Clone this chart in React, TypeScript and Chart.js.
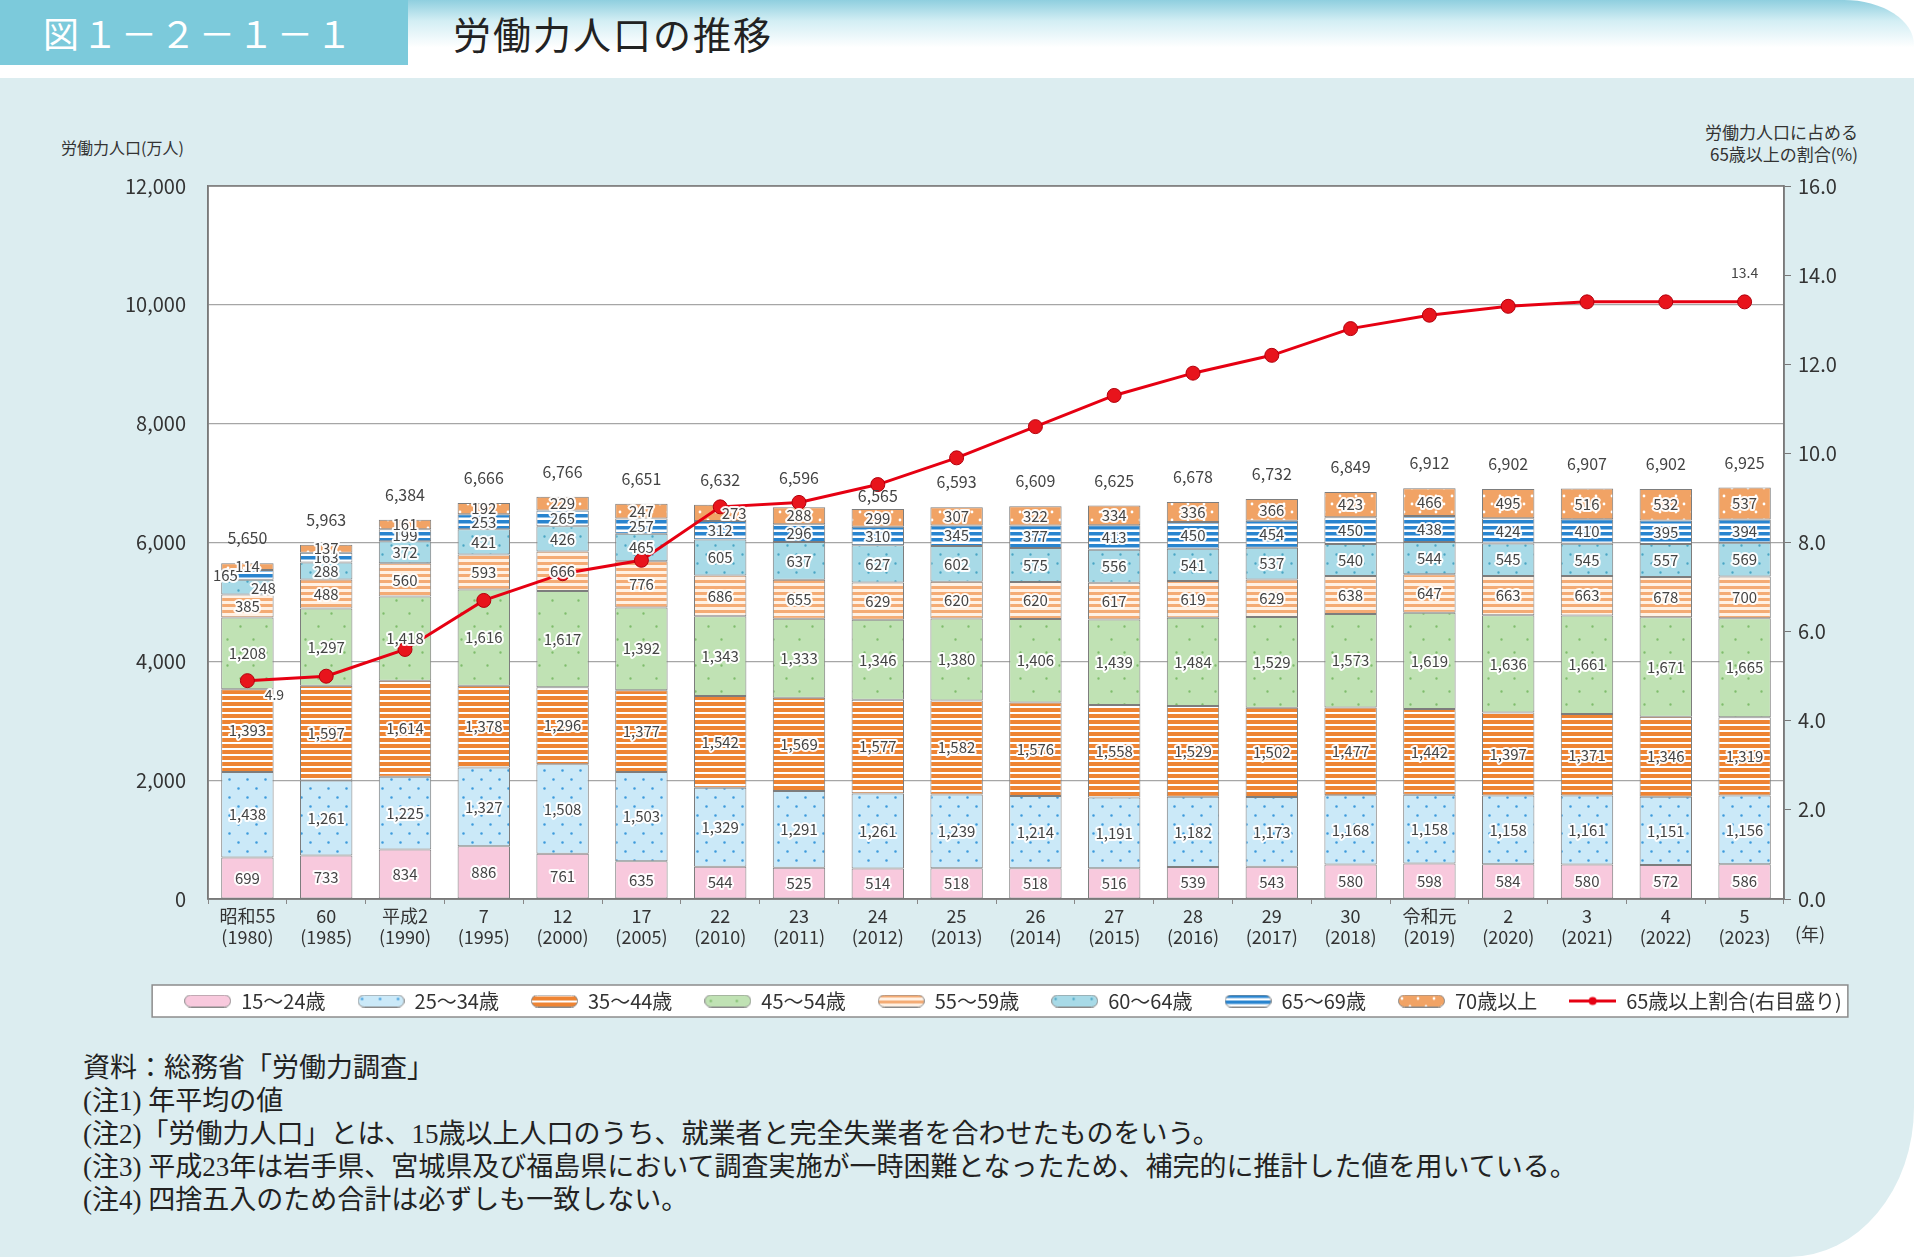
import React, { useEffect, useRef } from "react";
import Chart from "chart.js/auto";

const eraLabels = ["昭和55", "60", "平成2", "7", "12", "17", "22", "23", "24", "25", "26", "27", "28", "29", "30", "令和元", "2", "3", "4", "5"];
const yearLabels = ["(1980)", "(1985)", "(1990)", "(1995)", "(2000)", "(2005)", "(2010)", "(2011)", "(2012)", "(2013)", "(2014)", "(2015)", "(2016)", "(2017)", "(2018)", "(2019)", "(2020)", "(2021)", "(2022)", "(2023)"];

const age15to24 = [699, 733, 834, 886, 761, 635, 544, 525, 514, 518, 518, 516, 539, 543, 580, 598, 584, 580, 572, 586];
const age25to34 = [1438, 1261, 1225, 1327, 1508, 1503, 1329, 1291, 1261, 1239, 1214, 1191, 1182, 1173, 1168, 1158, 1158, 1161, 1151, 1156];
const age35to44 = [1393, 1597, 1614, 1378, 1296, 1377, 1542, 1569, 1577, 1582, 1576, 1558, 1529, 1502, 1477, 1442, 1397, 1371, 1346, 1319];
const age45to54 = [1208, 1297, 1418, 1616, 1617, 1392, 1343, 1333, 1346, 1380, 1406, 1439, 1484, 1529, 1573, 1619, 1636, 1661, 1671, 1665];
const age55to59 = [385, 488, 560, 593, 666, 776, 686, 655, 629, 620, 620, 617, 619, 629, 638, 647, 663, 663, 678, 700];
const age60to64 = [248, 288, 372, 421, 426, 465, 605, 637, 627, 602, 575, 556, 541, 537, 540, 544, 545, 545, 557, 569];
const age65to69 = [165, 163, 199, 253, 265, 257, 312, 296, 310, 345, 377, 413, 450, 454, 450, 438, 424, 410, 395, 394];
const age70plus = [114, 137, 161, 192, 229, 247, 273, 288, 299, 307, 322, 334, 336, 366, 423, 466, 495, 516, 532, 537];
const totals = [5650, 5963, 6384, 6666, 6766, 6651, 6632, 6596, 6565, 6593, 6609, 6625, 6678, 6732, 6849, 6912, 6902, 6907, 6902, 6925];
const elderlyShare = [4.9, 5.0, 5.6, 6.7, 7.3, 7.6, 8.8, 8.9, 9.3, 9.9, 10.6, 11.3, 11.8, 12.2, 12.8, 13.1, 13.3, 13.4, 13.4, 13.4];

const seriesNames = ["15～24歳", "25～34歳", "35～44歳", "45～54歳", "55～59歳", "60～64歳", "65～69歳", "70歳以上"];
const seriesValues = [age15to24, age25to34, age35to44, age45to54, age55to59, age60to64, age65to69, age70plus];
const lineName = "65歳以上割合(右目盛り)";

const notes = [
  "資料：総務省「労働力調査」",
  "(注1) 年平均の値",
  "(注2)「労働力人口」とは、15歳以上人口のうち、就業者と完全失業者を合わせたものをいう。",
  "(注3) 平成23年は岩手県、宮城県及び福島県において調査実施が一時困難となったため、補完的に推計した値を用いている。",
  "(注4) 四捨五入のため合計は必ずしも一致しない。",
];

const FONT = '"Noto Sans CJK JP", "Noto Sans", sans-serif';

type Fill = { bg: string; fg?: string; kind: "solid" | "dots" | "stripes"; size: number; mark: number };

const fills: Fill[] = [
  { kind: "solid", bg: "#f8c9dd", size: 8, mark: 0 },
  { kind: "dots", bg: "#cbe9f8", fg: "#3d9bdc", size: 18, mark: 1.3 },
  { kind: "stripes", bg: "#ee8433", fg: "#ffffff", size: 6, mark: 2 },
  { kind: "dots", bg: "#c0e2b4", fg: "#7fbd6c", size: 26, mark: 1.2 },
  { kind: "stripes", bg: "#fff1e4", fg: "#f4ab74", size: 6, mark: 3 },
  { kind: "dots", bg: "#a8dae7", fg: "#4aa6c4", size: 18, mark: 1.2 },
  { kind: "stripes", bg: "#ffffff", fg: "#2884cf", size: 6, mark: 3.5 },
  { kind: "dots", bg: "#f1a365", fg: "#ffffff", size: 16, mark: 1.4 },
];

function makeFill(ctx: CanvasRenderingContext2D, f: Fill): CanvasPattern | string {
  if (f.kind === "solid") return f.bg;
  const c = document.createElement("canvas");
  c.width = f.size;
  c.height = f.size;
  const g = c.getContext("2d")!;
  g.fillStyle = f.bg;
  g.fillRect(0, 0, f.size, f.size);
  g.fillStyle = f.fg || "#fff";
  if (f.kind === "stripes") {
    g.fillRect(0, 0, f.size, f.mark);
  } else {
    const q = f.size / 4;
    g.beginPath();
    g.arc(q, q, f.mark, 0, Math.PI * 2);
    g.arc(3 * q, 3 * q, f.mark, 0, Math.PI * 2);
    g.fill();
  }
  return ctx.createPattern(c, "repeat") as CanvasPattern;
}

function makeSwatch(f: Fill | null): HTMLCanvasElement {
  const c = document.createElement("canvas");
  c.width = 47;
  c.height = 13;
  const g = c.getContext("2d")!;
  if (f) {
    g.beginPath();
    g.roundRect(0.5, 0.5, 46, 12, 6);
    g.fillStyle = makeFill(g, f);
    g.fill();
    g.strokeStyle = "#8a8a8a";
    g.lineWidth = 1;
    g.stroke();
  } else {
    g.strokeStyle = "#e60012";
    g.lineWidth = 3;
    g.beginPath();
    g.moveTo(0, 6.5);
    g.lineTo(47, 6.5);
    g.stroke();
    g.fillStyle = "#e60012";
    g.beginPath();
    g.arc(23.5, 6.5, 4, 0, Math.PI * 2);
    g.fill();
  }
  return c;
}

// label nudges for crowded segments: "dataset-index" -> [dx, dy]
const segmentNudge: Record<string, [number, number]> = {
  "6-0": [-22, 0],
  "5-0": [16, 1],
  "7-6": [14, 0],
};
const totalGap: Record<number, number> = { 7: 29, 8: 13 };

const fmt = (v: number) => v.toLocaleString("en-US");

const decorPlugin = {
  id: "decor",
  beforeDraw(chart: any) {
    const { ctx, chartArea } = chart;
    ctx.save();
    ctx.fillStyle = "#ffffff";
    ctx.fillRect(chartArea.left, chartArea.top, chartArea.width, chartArea.height);
    const lg = chart.legend;
    if (lg && lg.legendHitBoxes && lg.legendHitBoxes.length) {
      const hb = lg.legendHitBoxes;
      const cy = hb[0].top + hb[0].height / 2;
      const x0 = hb[0].left - 32;
      const last = hb[hb.length - 1];
      const x1 = last.left + last.width + 6;
      ctx.fillRect(x0, cy - 16, x1 - x0, 32);
      ctx.strokeStyle = "#8c8c8c";
      ctx.lineWidth = 1.5;
      ctx.strokeRect(x0, cy - 16, x1 - x0, 32);
    }
    ctx.restore();
  },
  beforeDatasetsDraw(chart: any) {
    const { ctx, chartArea } = chart;
    ctx.save();
    ctx.strokeStyle = "#7a7a7a";
    ctx.lineWidth = 1.5;
    ctx.strokeRect(chartArea.left, chartArea.top, chartArea.width, chartArea.height);
    ctx.restore();
  },
  afterDatasetsDraw(chart: any) {
    const ctx: CanvasRenderingContext2D = chart.ctx;
    ctx.save();
    ctx.textAlign = "center";
    ctx.textBaseline = "middle";
    ctx.lineJoin = "round";
    const put = (t: string, x: number, y: number, color: string) => {
      ctx.strokeStyle = "rgba(255,255,255,0.95)";
      ctx.lineWidth = 4;
      ctx.strokeText(t, x, y);
      ctx.fillStyle = color;
      ctx.fillText(t, x, y);
    };
    ctx.font = `15px ${FONT}`;
    seriesValues.forEach((vals, di) => {
      const meta = chart.getDatasetMeta(di);
      meta.data.forEach((el: any, j: number) => {
        const [dx, dy] = segmentNudge[`${di}-${j}`] || [0, 0];
        put(fmt(vals[j]), el.x + dx, (el.y + el.base) / 2 + dy, "#444");
      });
    });
    ctx.font = `16px ${FONT}`;
    const topMeta = chart.getDatasetMeta(seriesValues.length - 1);
    topMeta.data.forEach((el: any, j: number) => {
      const gap = totalGap[j] ?? 25;
      ctx.fillStyle = "#444";
      ctx.fillText(fmt(totals[j]), el.x, el.y - gap);
    });
    ctx.font = `14px ${FONT}`;
    const lineMeta = chart.getDatasetMeta(seriesValues.length);
    const first = lineMeta.data[0];
    const last = lineMeta.data[lineMeta.data.length - 1];
    put(elderlyShare[0].toFixed(1), first.x + 27, first.y + 14, "#444");
    put(elderlyShare[elderlyShare.length - 1].toFixed(1), last.x, last.y - 29, "#444");
    ctx.restore();
  },
};

const LaborChart: React.FC = () => {
  const canvasRef = useRef<HTMLCanvasElement | null>(null);

  useEffect(() => {
    if (!canvasRef.current) return;
    const ctx = canvasRef.current.getContext("2d");
    if (!ctx) return;
    const swatches = [...fills.map((f) => makeSwatch(f)), makeSwatch(null)];
    const tickFont = { family: FONT, size: 20 };

    const chart = new Chart(ctx, {
      type: "bar",
      data: {
        labels: eraLabels.map((e, i) => [e, yearLabels[i]]),
        datasets: [
          ...seriesValues.map((vals, i) => ({
            type: "bar" as const,
            label: seriesNames[i],
            data: vals,
            backgroundColor: makeFill(ctx, fills[i]),
            borderColor: "#7d7d7d",
            borderWidth: 1,
            borderSkipped: false,
            stack: "labor",
            yAxisID: "y",
            barPercentage: 0.665,
            categoryPercentage: 1,
            order: 1,
          })),
          {
            type: "line" as const,
            label: lineName,
            data: elderlyShare,
            yAxisID: "y1",
            borderColor: "#e60012",
            borderWidth: 3,
            pointRadius: 7,
            pointBackgroundColor: "#e8141c",
            pointBorderColor: "#b3000c",
            pointBorderWidth: 1,
            tension: 0,
            order: 0,
          },
        ],
      } as any,
      options: {
        responsive: false,
        animation: false,
        events: [],
        layout: { padding: { top: 86, left: 110, right: 0, bottom: 9 } },
        plugins: {
          tooltip: { enabled: false },
          legend: {
            position: "bottom",
            labels: {
              usePointStyle: true,
              pointStyleWidth: 47,
              boxHeight: 13,
              padding: 32,
              color: "#333",
              font: { family: FONT, size: 20 },
              generateLabels: (c: any) =>
                c.data.datasets.map((ds: any, i: number) => ({
                  text: ds.label,
                  pointStyle: swatches[i],
                  fillStyle: "transparent",
                  strokeStyle: "transparent",
                  lineWidth: 0,
                  hidden: false,
                  datasetIndex: i,
                  fontColor: "#333",
                })),
            },
          },
        },
        scales: {
          x: {
            stacked: true,
            grid: { display: true, offset: true, drawOnChartArea: false, drawTicks: true, tickLength: 5, color: "#888" },
            border: { display: true, color: "#7a7a7a", width: 1.5 },
            ticks: { color: "#333", padding: 2, maxRotation: 0, autoSkip: false, font: { family: FONT, size: 18, lineHeight: 1.17 } },
            afterFit: (s: any) => {
              s.height = 60;
            },
          },
          y: {
            stacked: true,
            position: "left",
            min: 0,
            max: 12000,
            ticks: { stepSize: 2000, color: "#333", padding: 22, font: tickFont, callback: (v: any) => fmt(Number(v)) },
            grid: { color: "#a6a6a6", lineWidth: 1.2, drawTicks: false },
            border: { display: true, color: "#7a7a7a", width: 1.5 },
            afterFit: (s: any) => {
              s.width = 98;
            },
          },
          y1: {
            position: "right",
            min: 0,
            max: 16,
            ticks: { stepSize: 2, color: "#333", padding: 7, font: tickFont, callback: (v: any) => Number(v).toFixed(1) },
            grid: { drawOnChartArea: false, drawTicks: true, tickLength: 7, color: "#777" },
            border: { display: true, color: "#7a7a7a", width: 1.5 },
            afterFit: (s: any) => {
              s.width = 132;
            },
          },
        },
      } as any,
      plugins: [decorPlugin],
    });

    return () => {
      chart.destroy();
    };
  }, []);

  return <canvas ref={canvasRef} width={1916} height={930} style={{ position: "absolute", left: 0, top: 100, width: 1916, height: 930 }} />;
};

export default function App() {
  return (
    <div style={{ position: "absolute", left: 0, top: 0, width: 1920, height: 1257, background: "#ffffff", overflow: "hidden", fontFamily: FONT }}>
      <div style={{ position: "absolute", left: 0, top: 0, width: 1914, height: 70, background: "linear-gradient(#8fcfdf 0%, #d3eef4 30%, #ffffff 68%)", borderTopRightRadius: "70px 45px" }} />
      <div style={{ position: "absolute", left: 0, top: 0, width: 408, height: 65, background: "#7ccadb", color: "#ffffff", fontSize: 36, lineHeight: "65px", paddingLeft: 43, boxSizing: "border-box", letterSpacing: 3, whiteSpace: "nowrap" }}>
        図１－２－１－１
      </div>
      <div style={{ position: "absolute", left: 453, top: 0, height: 65, lineHeight: "65px", fontSize: 38, color: "#222", letterSpacing: 2, whiteSpace: "nowrap" }}>
        労働力人口の推移
      </div>
      <div style={{ position: "absolute", left: 0, top: 78, width: 1914, height: 1179, background: "#dcedf0", borderBottomRightRadius: "125px 150px" }} />
      <div style={{ position: "absolute", left: 61, top: 136, fontSize: 16, lineHeight: "22px", color: "#333", whiteSpace: "nowrap" }}>労働力人口(万人)</div>
      <div style={{ position: "absolute", right: 62, top: 121, fontSize: 17, lineHeight: "22px", color: "#333", textAlign: "right", whiteSpace: "nowrap" }}>
        労働力人口に占める
        <br />
        65歳以上の割合(%)
      </div>
      <LaborChart />
      <div style={{ position: "absolute", left: 1795, top: 922, fontSize: 18, lineHeight: "22px", color: "#333", whiteSpace: "nowrap" }}>(年)</div>
      <div style={{ position: "absolute", left: 83, top: 1052, fontSize: 27, lineHeight: "33px", color: "#222", fontFamily: '"Liberation Serif", "Noto Sans CJK JP", serif' }}>
        {notes.map((n) => (
          <div key={n} style={{ whiteSpace: "nowrap" }}>{n}</div>
        ))}
      </div>
    </div>
  );
}
